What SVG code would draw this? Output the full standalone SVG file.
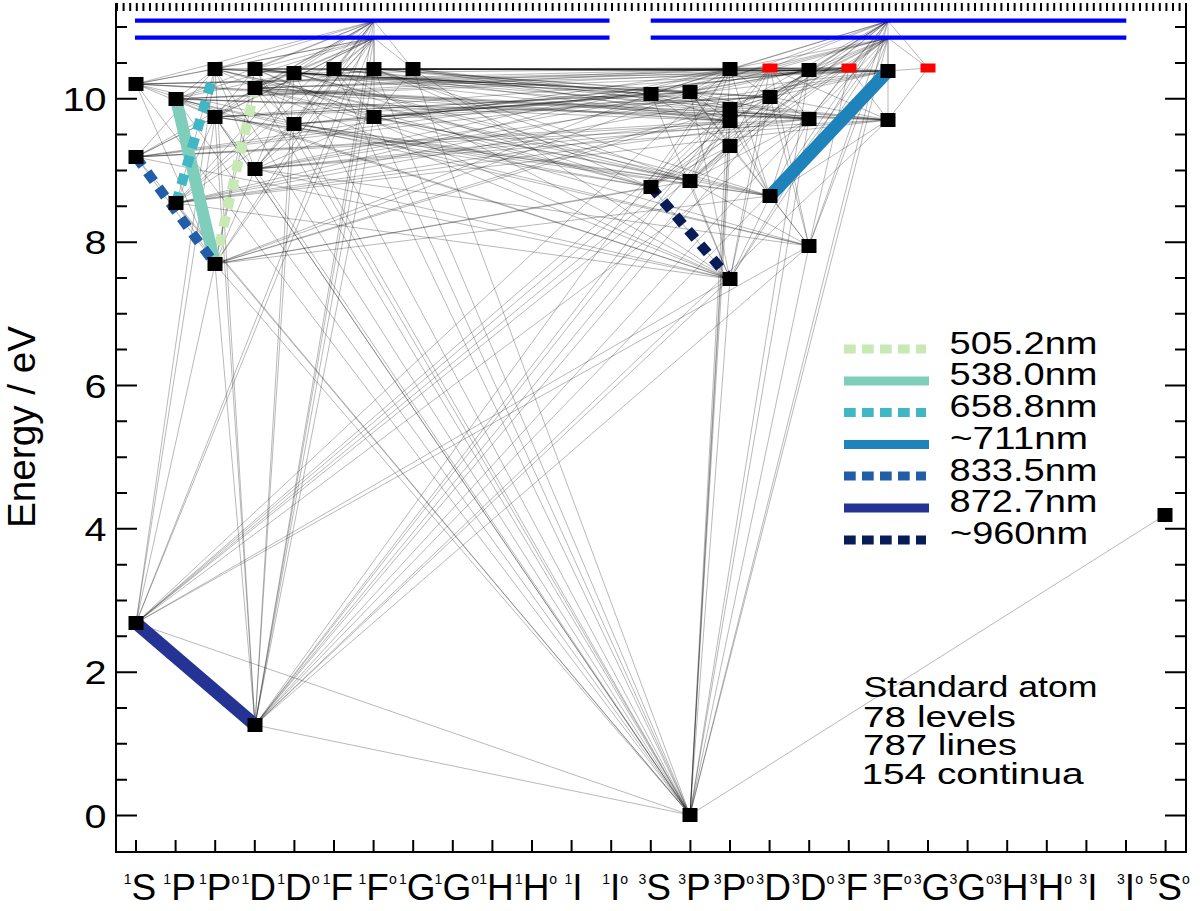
<svg xmlns="http://www.w3.org/2000/svg" width="1200" height="911" viewBox="0 0 1200 911">
<style>
text{font-family:"Liberation Sans",Arial,sans-serif;fill:#000}
.tk{font-size:34px}
.lab{font-size:37px}
.sup{font-size:14px}
.leg{font-size:31px}
.info{font-size:30px}
.ax{stroke:#000;stroke-width:2;fill:none}
#connectors path{stroke:#000;stroke-opacity:.4;stroke-width:.7;fill:none}
.lv{fill:#000}
.rd{fill:#f00}
</style>
<rect width="1200" height="911" fill="#fff"/>
<g id="axes">
<path class="ax" d="M116 3V852H1186V3"/>
<line x1="116" y1="7" x2="1186" y2="7" stroke="#000" stroke-width="8" stroke-dasharray="2 4.6"/>
<path class="ax" d="M116 815.5H137M116 672.2H137M116 528.8H137M116 385.5H137M116 242.2H137M116 98.8H137M116 779.7H127M116 743.8H127M116 708H127M116 636.3H127M116 600.5H127M116 564.7H127M116 493H127M116 457.2H127M116 421.3H127M116 349.6H127M116 313.8H127M116 278H127M116 206.3H127M116 170.5H127M116 134.6H127M116 63H127M116 27.1H127"/>
<path class="ax" d="M1186 815.5H1165M1186 672.2H1165M1186 528.8H1165M1186 385.5H1165M1186 242.2H1165M1186 98.8H1165M1186 779.7H1175M1186 743.8H1175M1186 708H1175M1186 636.3H1175M1186 600.5H1175M1186 564.7H1175M1186 493H1175M1186 457.2H1175M1186 421.3H1175M1186 349.6H1175M1186 313.8H1175M1186 278H1175M1186 206.3H1175M1186 170.5H1175M1186 134.6H1175M1186 63H1175M1186 27.1H1175"/>
<path class="ax" d="M136 852V840M175.6 852V840M215.2 852V840M254.8 852V840M294.4 852V840M334 852V840M373.6 852V840M413.2 852V840M452.8 852V840M492.4 852V840M532 852V840M571.6 852V840M611.2 852V840M650.8 852V840M690.4 852V840M730 852V840M769.6 852V840M809.2 852V840M848.8 852V840M888.4 852V840M928 852V840M967.6 852V840M1007.2 852V840M1046.8 852V840M1086.4 852V840M1126 852V840M1165.6 852V840"/>
<g class="tk" text-anchor="end">
<text x="106.5" y="827.5" textLength="22" lengthAdjust="spacingAndGlyphs">0</text>
<text x="106.5" y="684.2" textLength="22" lengthAdjust="spacingAndGlyphs">2</text>
<text x="106.5" y="540.8" textLength="22" lengthAdjust="spacingAndGlyphs">4</text>
<text x="106.5" y="397.5" textLength="22" lengthAdjust="spacingAndGlyphs">6</text>
<text x="106.5" y="254.2" textLength="22" lengthAdjust="spacingAndGlyphs">8</text>
<text x="106.5" y="110.8" textLength="44" lengthAdjust="spacingAndGlyphs">10</text>
</g>
<text transform="translate(35,427) rotate(-90)" text-anchor="middle" font-size="38" textLength="202" lengthAdjust="spacingAndGlyphs">Energy / eV</text>
<g class="lab" text-anchor="middle">
<text x="140" y="900"><tspan class="sup" dy="-16">1</tspan><tspan dy="16">S</tspan></text>
<text x="179.6" y="900"><tspan class="sup" dy="-16">1</tspan><tspan dy="16">P</tspan></text>
<text x="219.2" y="900"><tspan class="sup" dy="-16">1</tspan><tspan dy="16">P</tspan><tspan class="sup" dy="-16">o</tspan></text>
<text x="258.8" y="900"><tspan class="sup" dy="-16">1</tspan><tspan dy="16">D</tspan></text>
<text x="298.4" y="900"><tspan class="sup" dy="-16">1</tspan><tspan dy="16">D</tspan><tspan class="sup" dy="-16">o</tspan></text>
<text x="338" y="900"><tspan class="sup" dy="-16">1</tspan><tspan dy="16">F</tspan></text>
<text x="377.6" y="900"><tspan class="sup" dy="-16">1</tspan><tspan dy="16">F</tspan><tspan class="sup" dy="-16">o</tspan></text>
<text x="417.2" y="900"><tspan class="sup" dy="-16">1</tspan><tspan dy="16">G</tspan></text>
<text x="456.8" y="900"><tspan class="sup" dy="-16">1</tspan><tspan dy="16">G</tspan><tspan class="sup" dy="-16">o</tspan></text>
<text x="496.4" y="900"><tspan class="sup" dy="-16">1</tspan><tspan dy="16">H</tspan></text>
<text x="536" y="900"><tspan class="sup" dy="-16">1</tspan><tspan dy="16">H</tspan><tspan class="sup" dy="-16">o</tspan></text>
<text x="573.6" y="900"><tspan class="sup" dy="-16">1</tspan><tspan dy="16">I</tspan></text>
<text x="615.2" y="900"><tspan class="sup" dy="-16">1</tspan><tspan dy="16">I</tspan><tspan class="sup" dy="-16">o</tspan></text>
<text x="654.8" y="900"><tspan class="sup" dy="-16">3</tspan><tspan dy="16">S</tspan></text>
<text x="694.4" y="900"><tspan class="sup" dy="-16">3</tspan><tspan dy="16">P</tspan></text>
<text x="734" y="900"><tspan class="sup" dy="-16">3</tspan><tspan dy="16">P</tspan><tspan class="sup" dy="-16">o</tspan></text>
<text x="773.6" y="900"><tspan class="sup" dy="-16">3</tspan><tspan dy="16">D</tspan></text>
<text x="813.2" y="900"><tspan class="sup" dy="-16">3</tspan><tspan dy="16">D</tspan><tspan class="sup" dy="-16">o</tspan></text>
<text x="852.8" y="900"><tspan class="sup" dy="-16">3</tspan><tspan dy="16">F</tspan></text>
<text x="892.4" y="900"><tspan class="sup" dy="-16">3</tspan><tspan dy="16">F</tspan><tspan class="sup" dy="-16">o</tspan></text>
<text x="932" y="900"><tspan class="sup" dy="-16">3</tspan><tspan dy="16">G</tspan></text>
<text x="971.6" y="900"><tspan class="sup" dy="-16">3</tspan><tspan dy="16">G</tspan><tspan class="sup" dy="-16">o</tspan></text>
<text x="1011.2" y="900"><tspan class="sup" dy="-16">3</tspan><tspan dy="16">H</tspan></text>
<text x="1050.8" y="900"><tspan class="sup" dy="-16">3</tspan><tspan dy="16">H</tspan><tspan class="sup" dy="-16">o</tspan></text>
<text x="1088.4" y="900"><tspan class="sup" dy="-16">3</tspan><tspan dy="16">I</tspan></text>
<text x="1130" y="900"><tspan class="sup" dy="-16">3</tspan><tspan dy="16">I</tspan><tspan class="sup" dy="-16">o</tspan></text>
<text x="1169.6" y="900"><tspan class="sup" dy="-16">5</tspan><tspan dy="16">S</tspan><tspan class="sup" dy="-16">o</tspan></text>
</g>
</g>
<g id="connectors">
<path d="M136 84L215 69"/><path d="M136 84L215 117"/><path d="M136 84L215 264"/>
<path d="M136 157L215 69"/><path d="M136 157L215 117"/><path d="M136 157L215 264"/>
<path d="M136 623L215 69"/><path d="M136 623L215 117"/><path d="M136 623L215 264"/>
<path d="M176 99L215 69"/><path d="M176 99L215 117"/><path d="M176 99L215 264"/><path d="M176 99L294 73"/><path d="M176 99L294 124"/>
<path d="M176 203L215 69"/><path d="M176 203L215 117"/><path d="M176 203L215 264"/><path d="M176 203L294 73"/><path d="M176 203L294 124"/>
<path d="M255 69L215 69"/><path d="M255 69L215 117"/><path d="M255 69L215 264"/><path d="M255 69L294 73"/><path d="M255 69L294 124"/><path d="M255 69L374 69"/><path d="M255 69L374 117"/>
<path d="M255 88L215 69"/><path d="M255 88L215 117"/><path d="M255 88L215 264"/><path d="M255 88L294 73"/><path d="M255 88L294 124"/><path d="M255 88L374 69"/><path d="M255 88L374 117"/>
<path d="M255 169L215 69"/><path d="M255 169L215 117"/><path d="M255 169L215 264"/><path d="M255 169L294 73"/><path d="M255 169L294 124"/><path d="M255 169L374 69"/><path d="M255 169L374 117"/>
<path d="M255 725L215 69"/><path d="M255 725L215 117"/><path d="M255 725L215 264"/><path d="M255 725L294 73"/><path d="M255 725L294 124"/><path d="M255 725L374 69"/><path d="M255 725L374 117"/>
<path d="M334 69L294 73"/><path d="M334 69L294 124"/><path d="M334 69L374 69"/><path d="M334 69L374 117"/>
<path d="M413 69L374 69"/><path d="M413 69L374 117"/>
<path d="M651 94L730 69"/><path d="M651 94L730 109"/><path d="M651 94L730 121"/><path d="M651 94L730 146"/><path d="M651 94L730 279"/>
<path d="M651 187L730 69"/><path d="M651 187L730 109"/><path d="M651 187L730 121"/><path d="M651 187L730 146"/><path d="M651 187L730 279"/>
<path d="M690 815L730 69"/><path d="M690 815L730 109"/><path d="M690 815L730 121"/><path d="M690 815L730 146"/><path d="M690 815L730 279"/><path d="M690 815L809 70"/><path d="M690 815L809 119"/><path d="M690 815L809 246"/>
<path d="M690 92L730 69"/><path d="M690 92L730 109"/><path d="M690 92L730 121"/><path d="M690 92L730 146"/><path d="M690 92L730 279"/><path d="M690 92L809 70"/><path d="M690 92L809 119"/><path d="M690 92L809 246"/>
<path d="M690 181L730 69"/><path d="M690 181L730 109"/><path d="M690 181L730 121"/><path d="M690 181L730 146"/><path d="M690 181L730 279"/><path d="M690 181L809 70"/><path d="M690 181L809 119"/><path d="M690 181L809 246"/>
<path d="M770 97L730 69"/><path d="M770 97L730 109"/><path d="M770 97L730 121"/><path d="M770 97L730 146"/><path d="M770 97L730 279"/><path d="M770 97L809 70"/><path d="M770 97L809 119"/><path d="M770 97L809 246"/><path d="M770 97L888 71"/><path d="M770 97L888 120"/>
<path d="M770 196L730 69"/><path d="M770 196L730 109"/><path d="M770 196L730 121"/><path d="M770 196L730 146"/><path d="M770 196L730 279"/><path d="M770 196L809 70"/><path d="M770 196L809 119"/><path d="M770 196L809 246"/><path d="M770 196L888 71"/><path d="M770 196L888 120"/>
<path d="M770 68L730 69"/><path d="M770 68L730 109"/><path d="M770 68L730 121"/><path d="M770 68L730 146"/><path d="M770 68L730 279"/><path d="M770 68L809 70"/><path d="M770 68L809 119"/><path d="M770 68L809 246"/><path d="M770 68L888 71"/><path d="M770 68L888 120"/>
<path d="M849 68L809 70"/><path d="M849 68L809 119"/><path d="M849 68L809 246"/><path d="M849 68L888 71"/><path d="M849 68L888 120"/>
<path d="M928 68L888 71"/><path d="M928 68L888 120"/>
<path d="M690 815L136 84"/><path d="M690 815L136 157"/><path d="M690 815L176 99"/><path d="M690 815L176 203"/><path d="M690 815L215 69"/><path d="M690 815L215 117"/><path d="M690 815L215 117"/><path d="M690 815L215 264"/><path d="M690 815L255 69"/><path d="M690 815L255 88"/><path d="M690 815L255 169"/><path d="M690 815L294 73"/><path d="M690 815L294 124"/><path d="M690 815L334 69"/><path d="M690 815L374 69"/><path d="M690 815L374 117"/><path d="M690 815L413 69"/>
<path d="M136 623L730 69"/><path d="M136 623L730 109"/><path d="M136 623L730 121"/><path d="M136 623L730 146"/><path d="M136 623L730 279"/><path d="M136 623L809 70"/><path d="M136 623L809 119"/><path d="M136 623L809 246"/>
<path d="M255 725L730 69"/><path d="M255 725L730 109"/><path d="M255 725L730 121"/><path d="M255 725L730 146"/><path d="M255 725L730 279"/><path d="M255 725L809 70"/><path d="M255 725L809 119"/><path d="M255 725L809 246"/><path d="M255 725L888 71"/><path d="M255 725L888 120"/>
<path d="M136 623L690 815"/><path d="M255 725L690 815"/><path d="M1165 515L690 815"/>
<path d="M730 279L136 84"/><path d="M730 279L136 157"/><path d="M730 279L176 99"/><path d="M730 279L176 203"/><path d="M730 279L255 69"/><path d="M730 279L255 88"/><path d="M730 279L255 169"/><path d="M730 279L334 69"/><path d="M730 279L413 69"/>
<path d="M809 246L136 84"/><path d="M809 246L176 99"/><path d="M809 246L255 88"/><path d="M809 246L255 169"/>
<path d="M136 84L730 69"/><path d="M136 84L730 121"/><path d="M136 84L809 70"/><path d="M136 84L809 119"/><path d="M136 84L888 71"/><path d="M136 84L888 120"/>
<path d="M136 157L730 69"/><path d="M136 157L730 121"/><path d="M136 157L809 70"/><path d="M136 157L809 119"/><path d="M136 157L888 71"/><path d="M136 157L888 120"/>
<path d="M176 99L730 69"/><path d="M176 99L730 121"/><path d="M176 99L809 70"/><path d="M176 99L809 119"/><path d="M176 99L888 71"/><path d="M176 99L888 120"/>
<path d="M176 203L730 69"/><path d="M176 203L730 121"/><path d="M176 203L809 70"/><path d="M176 203L809 119"/><path d="M176 203L888 71"/><path d="M176 203L888 120"/>
<path d="M255 69L730 69"/><path d="M255 69L730 121"/><path d="M255 69L809 70"/><path d="M255 69L809 119"/><path d="M255 69L888 71"/><path d="M255 69L888 120"/>
<path d="M255 88L730 69"/><path d="M255 88L730 121"/><path d="M255 88L809 70"/><path d="M255 88L809 119"/><path d="M255 88L888 71"/><path d="M255 88L888 120"/>
<path d="M255 169L730 69"/><path d="M255 169L730 121"/><path d="M255 169L809 70"/><path d="M255 169L809 119"/><path d="M255 169L888 71"/><path d="M255 169L888 120"/>
<path d="M334 69L730 69"/><path d="M334 69L730 121"/><path d="M334 69L809 70"/><path d="M334 69L809 119"/><path d="M334 69L888 71"/><path d="M334 69L888 120"/>
<path d="M413 69L730 69"/><path d="M413 69L730 121"/><path d="M413 69L809 70"/><path d="M413 69L809 119"/><path d="M413 69L888 71"/><path d="M413 69L888 120"/>
<path d="M215 69L651 94"/><path d="M215 69L651 187"/><path d="M215 69L690 92"/><path d="M215 69L690 181"/><path d="M215 69L770 97"/><path d="M215 69L770 196"/><path d="M215 69L849 68"/>
<path d="M215 117L651 94"/><path d="M215 117L651 187"/><path d="M215 117L690 92"/><path d="M215 117L690 181"/><path d="M215 117L770 97"/><path d="M215 117L770 196"/><path d="M215 117L849 68"/>
<path d="M215 264L651 94"/><path d="M215 264L651 187"/><path d="M215 264L690 92"/><path d="M215 264L690 181"/><path d="M215 264L770 97"/><path d="M215 264L770 196"/><path d="M215 264L849 68"/>
<path d="M294 73L651 94"/><path d="M294 73L651 187"/><path d="M294 73L690 92"/><path d="M294 73L690 181"/><path d="M294 73L770 97"/><path d="M294 73L770 196"/><path d="M294 73L849 68"/>
<path d="M294 124L651 94"/><path d="M294 124L651 187"/><path d="M294 124L690 92"/><path d="M294 124L690 181"/><path d="M294 124L770 97"/><path d="M294 124L770 196"/><path d="M294 124L849 68"/>
<path d="M374 69L651 94"/><path d="M374 69L651 187"/><path d="M374 69L690 92"/><path d="M374 69L690 181"/><path d="M374 69L770 97"/><path d="M374 69L770 196"/><path d="M374 69L849 68"/>
<path d="M374 117L651 94"/><path d="M374 117L651 187"/><path d="M374 117L690 92"/><path d="M374 117L690 181"/><path d="M374 117L770 97"/><path d="M374 117L770 196"/><path d="M374 117L849 68"/>
<path d="M136 84L374 21"/><path d="M136 84L374 38"/><path d="M136 157L374 21"/><path d="M136 157L374 38"/><path d="M136 623L374 21"/><path d="M136 623L374 38"/>
<path d="M176 99L374 21"/><path d="M176 99L374 38"/><path d="M176 203L374 21"/><path d="M176 203L374 38"/>
<path d="M215 69L374 21"/><path d="M215 69L374 38"/><path d="M215 117L374 21"/><path d="M215 117L374 38"/><path d="M215 264L374 21"/><path d="M215 264L374 38"/>
<path d="M255 69L374 21"/><path d="M255 69L374 38"/><path d="M255 88L374 21"/><path d="M255 88L374 38"/><path d="M255 169L374 21"/><path d="M255 169L374 38"/><path d="M255 725L374 21"/><path d="M255 725L374 38"/>
<path d="M294 73L374 21"/><path d="M294 73L374 38"/><path d="M294 124L374 21"/><path d="M294 124L374 38"/><path d="M334 69L374 21"/><path d="M334 69L374 38"/>
<path d="M374 69L374 21"/><path d="M374 117L374 38"/><path d="M413 69L374 21"/><path d="M413 69L374 38"/>
<path d="M651 94L888 21"/><path d="M651 94L888 38"/><path d="M651 187L888 21"/><path d="M651 187L888 38"/><path d="M690 815L888 21"/><path d="M690 815L888 38"/>
<path d="M690 92L888 21"/><path d="M690 92L888 38"/><path d="M690 181L888 21"/><path d="M690 181L888 38"/>
<path d="M730 69L888 21"/><path d="M730 69L888 38"/><path d="M730 109L888 21"/><path d="M730 109L888 38"/><path d="M730 121L888 21"/><path d="M730 121L888 38"/><path d="M730 146L888 21"/><path d="M730 146L888 38"/><path d="M730 279L888 21"/><path d="M730 279L888 38"/>
<path d="M770 97L888 21"/><path d="M770 97L888 38"/><path d="M770 196L888 21"/><path d="M770 196L888 38"/><path d="M770 68L888 21"/><path d="M770 68L888 38"/>
<path d="M809 70L888 21"/><path d="M809 70L888 38"/><path d="M809 119L888 21"/><path d="M809 119L888 38"/><path d="M809 246L888 21"/><path d="M809 246L888 38"/>
<path d="M888 71L888 21"/><path d="M888 120L888 38"/><path d="M849 68L888 21"/><path d="M849 68L888 38"/><path d="M928 68L888 21"/><path d="M928 68L888 38"/>
</g>
<g id="continua" stroke="#00f" stroke-width="4.3">
<line x1="135" y1="20.7" x2="609.5" y2="20.7"/>
<line x1="135" y1="37.7" x2="609.5" y2="37.7"/>
<line x1="650.7" y1="20.7" x2="1126.3" y2="20.7"/>
<line x1="650.7" y1="37.7" x2="1126.3" y2="37.7"/>
</g>
<g id="transitions" fill="none">
<path d="M215 264L255 88" stroke="#c7e9b4" stroke-width="10" stroke-dasharray="11 8"/>
<path d="M176 99L215 264" stroke="#7fcdbb" stroke-width="12"/>
<path d="M176 203L215 69" stroke="#41b6c4" stroke-width="10" stroke-dasharray="11 8"/>
<path d="M770 196L888 71" stroke="#1f83bb" stroke-width="13"/>
<path d="M136 157L215 264" stroke="#225ea8" stroke-width="10" stroke-dasharray="11 8"/>
<path d="M136 623L255 725" stroke="#253494" stroke-width="13"/>
<path d="M651 187L730 279" stroke="#081d58" stroke-width="10" stroke-dasharray="11 8"/>
</g>
<g id="levels">
<g id="lv-1S-a"><rect class="lv" x="128.5" y="77" width="15" height="14"/></g>
<g id="lv-1S-b"><rect class="lv" x="128.5" y="150" width="15" height="14"/></g>
<g id="lv-1S-c"><rect class="lv" x="128.5" y="616" width="15" height="14"/></g>
<g id="lv-1P-a"><rect class="lv" x="168.5" y="92" width="15" height="14"/></g>
<g id="lv-1P-b"><rect class="lv" x="168.5" y="196" width="15" height="14"/></g>
<g id="lv-1Po-a"><rect class="lv" x="207.5" y="62" width="15" height="14"/></g>
<g id="lv-1Po-b"><rect class="lv" x="207.5" y="110" width="15" height="14"/></g>
<g id="lv-1Po-c"><rect class="lv" x="207.5" y="257" width="15" height="14"/></g>
<g id="lv-1D-a"><rect class="lv" x="247.5" y="62" width="15" height="14"/></g>
<g id="lv-1D-b"><rect class="lv" x="247.5" y="81" width="15" height="14"/></g>
<g id="lv-1D-c"><rect class="lv" x="247.5" y="162" width="15" height="14"/></g>
<g id="lv-1D-d"><rect class="lv" x="247.5" y="718" width="15" height="14"/></g>
<g id="lv-1Do-a"><rect class="lv" x="286.5" y="66" width="15" height="14"/></g>
<g id="lv-1Do-b"><rect class="lv" x="286.5" y="117" width="15" height="14"/></g>
<g id="lv-1F-a"><rect class="lv" x="326.5" y="62" width="15" height="14"/></g>
<g id="lv-1Fo-a"><rect class="lv" x="366.5" y="62" width="15" height="14"/></g>
<g id="lv-1Fo-b"><rect class="lv" x="366.5" y="110" width="15" height="14"/></g>
<g id="lv-1G-a"><rect class="lv" x="405.5" y="62" width="15" height="14"/></g>
<g id="lv-3S-a"><rect class="lv" x="643.5" y="87" width="15" height="14"/></g>
<g id="lv-3S-b"><rect class="lv" x="643.5" y="180" width="15" height="14"/></g>
<g id="lv-3P-0"><rect class="lv" x="682.5" y="808" width="15" height="14"/></g>
<g id="lv-3P-a"><rect class="lv" x="682.5" y="85" width="15" height="14"/></g>
<g id="lv-3P-b"><rect class="lv" x="682.5" y="174" width="15" height="14"/></g>
<g id="lv-3Po-a"><rect class="lv" x="722.5" y="62" width="15" height="14"/></g>
<g id="lv-3Po-b"><rect class="lv" x="722.5" y="102" width="15" height="14"/></g>
<g id="lv-3Po-c"><rect class="lv" x="722.5" y="114" width="15" height="14"/></g>
<g id="lv-3Po-d"><rect class="lv" x="722.5" y="139" width="15" height="14"/></g>
<g id="lv-3Po-e"><rect class="lv" x="722.5" y="272" width="15" height="14"/></g>
<g id="lv-3D-a"><rect class="lv" x="762.5" y="90" width="15" height="14"/></g>
<g id="lv-3D-b"><rect class="lv" x="762.5" y="189" width="15" height="14"/></g>
<g id="lv-3D-r"><rect class="rd" x="762.5" y="63.5" width="15" height="9"/></g>
<g id="lv-3Do-a"><rect class="lv" x="801.5" y="63" width="15" height="14"/></g>
<g id="lv-3Do-b"><rect class="lv" x="801.5" y="112" width="15" height="14"/></g>
<g id="lv-3Do-c"><rect class="lv" x="801.5" y="239" width="15" height="14"/></g>
<g id="lv-3F-r"><rect class="rd" x="841.5" y="63.5" width="15" height="9"/></g>
<g id="lv-3Fo-a"><rect class="lv" x="880.5" y="64" width="15" height="14"/></g>
<g id="lv-3Fo-b"><rect class="lv" x="880.5" y="113" width="15" height="14"/></g>
<g id="lv-3G-r"><rect class="rd" x="920.5" y="63.5" width="15" height="9"/></g>
<g id="lv-5So"><rect class="lv" x="1157.5" y="508" width="15" height="14"/></g>
</g>
<g id="legend">
<line x1="844" y1="349" x2="926" y2="349" stroke="#c7e9b4" stroke-width="9" stroke-dasharray="11.7 6.3"/>
<line x1="844" y1="381" x2="929" y2="381" stroke="#7fcdbb" stroke-width="9"/>
<line x1="844" y1="412.5" x2="926" y2="412.5" stroke="#41b6c4" stroke-width="9" stroke-dasharray="11.7 6.3"/>
<line x1="844" y1="444.5" x2="929" y2="444.5" stroke="#1f83bb" stroke-width="9"/>
<line x1="844" y1="476" x2="926" y2="476" stroke="#225ea8" stroke-width="9" stroke-dasharray="11.7 6.3"/>
<line x1="844" y1="508" x2="929" y2="508" stroke="#253494" stroke-width="9"/>
<line x1="844" y1="540" x2="926" y2="540" stroke="#081d58" stroke-width="9" stroke-dasharray="11.7 6.3"/>
<g class="leg">
<text x="949.5" y="353.5" textLength="148" lengthAdjust="spacingAndGlyphs">505.2nm</text>
<text x="949.5" y="385" textLength="148" lengthAdjust="spacingAndGlyphs">538.0nm</text>
<text x="949.5" y="417" textLength="148" lengthAdjust="spacingAndGlyphs">658.8nm</text>
<text x="950" y="449" textLength="138" lengthAdjust="spacingAndGlyphs">~711nm</text>
<text x="949.5" y="480.5" textLength="148" lengthAdjust="spacingAndGlyphs">833.5nm</text>
<text x="949.5" y="512" textLength="148" lengthAdjust="spacingAndGlyphs">872.7nm</text>
<text x="950" y="544" textLength="138" lengthAdjust="spacingAndGlyphs">~960nm</text>
</g>
</g>
<g id="info" class="info">
<text x="863.5" y="696.7" textLength="234" lengthAdjust="spacingAndGlyphs">Standard atom</text>
<text x="863" y="726.7" textLength="153" lengthAdjust="spacingAndGlyphs">78 levels</text>
<text x="863" y="755" textLength="154" lengthAdjust="spacingAndGlyphs">787 lines</text>
<text x="861.5" y="784" textLength="222" lengthAdjust="spacingAndGlyphs">154 continua</text>
</g>
</svg>
